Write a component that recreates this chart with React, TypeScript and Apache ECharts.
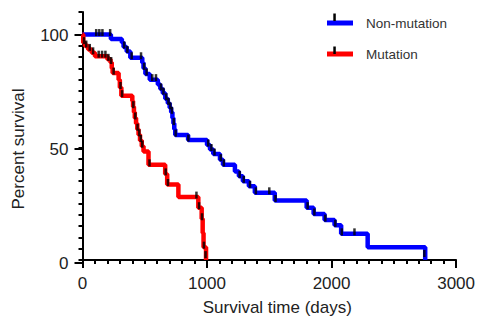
import React, { useEffect, useRef } from "react";
import * as echarts from "echarts";

const seriesNames = ["Non-mutation", "Mutation"];
const seriesColors = ["#0000ff", "#ff0000"];

// Kaplan-Meier steps: [day, survival % after event]
const nonMutationSteps: [number, number][] = [
  [0, 100], [228, 98], [316, 96.5], [330, 94.5], [355, 92.5], [384, 89.7],
  [480, 87.5], [490, 85], [505, 82.5], [540, 80], [605, 77.8], [625, 75.9],
  [645, 74], [665, 71.5], [685, 69.5], [700, 67.5], [712, 65.5], [722, 63],
  [730, 60.5], [737, 58], [745, 55.4], [848, 53.2], [1000, 51], [1024, 49],
  [1050, 47], [1104, 44.5], [1128, 42.2], [1224, 39.3], [1256, 37.1],
  [1288, 34.9], [1336, 32.7], [1384, 29.8], [1544, 26.4], [1800, 23.2],
  [1856, 20.4], [1944, 17.7], [2024, 15.4], [2077, 11.6], [2290, 5.7], [2752, 0],
];
const nonMutationCensored: [number, number][] = [
  [110, 100], [135, 100], [160, 100], [222, 100], [335, 94.5], [360, 92.5],
  [395, 89.7], [470, 89.7], [495, 85], [515, 82.5], [560, 80], [590, 80],
  [630, 75.9], [650, 74], [672, 71.5], [690, 69.5], [705, 67.5], [718, 65.5],
  [733, 60.5], [748, 55.4], [850, 53.2], [1010, 51], [1035, 49], [1060, 47],
  [1110, 44.5], [1135, 42.2], [1262, 37.1], [1295, 34.9], [1345, 32.7],
  [1392, 29.8], [1500, 29.8], [1550, 26.4], [1808, 23.2], [1862, 20.4],
  [1950, 17.7], [2030, 15.4], [2082, 11.6], [2184, 11.6], [2745, 2],
];
const mutationSteps: [number, number][] = [
  [0, 100], [6, 96.4], [20, 94.9], [46, 93.4], [74, 91.9], [100, 90.4],
  [200, 89], [225, 87.6], [235, 85], [242, 82.9], [290, 80], [300, 76.5],
  [312, 72.9], [400, 70.5], [406, 68], [413, 65.5], [420, 63], [430, 60.5],
  [440, 58], [450, 55.5], [462, 53], [476, 50.5], [490, 48.1], [530, 42.2],
  [664, 38.2], [680, 33.5], [770, 27.9], [930, 23.2], [957, 18.3], [965, 12],
  [972, 5.7], [992, 0],
];
const mutationCensored: [number, number][] = [
  [12, 96.4], [30, 94.9], [58, 93.4], [85, 91.9], [130, 90.4], [157, 90.4],
  [184, 90.4], [208, 89], [230, 87.6], [250, 82.9], [305, 76.5], [318, 72.9],
  [408, 68], [424, 63], [442, 58], [456, 55.5], [468, 53], [480, 50.5],
  [538, 42.2], [668, 38.2], [686, 33.5], [915, 27.9], [936, 23.2], [960, 18.3],
  [975, 5.7], [988, 1.5],
];

const xMin = 0, xMax = 3000, xInterval = 1000;
const yMax = 110, yLabelMax = 100, yInterval = 50;

const FONT = "'Liberation Sans', Arial, Helvetica, sans-serif";

export default function App() {
  const ref = useRef<HTMLDivElement>(null);
  useEffect(() => {
    if (!ref.current) return;
    const chart = echarts.init(ref.current, undefined, { renderer: "svg" });
    const axisLineStyle = { color: "#000", width: 2 };
    const label = { color: "#222", fontSize: 17, fontFamily: FONT };
    const plain = (v: number) => String(v);
    const stepSeries = (name: string, data: [number, number][], color: string) => ({
      name,
      type: "line",
      step: "end",
      data,
      showSymbol: false,
      symbol: "none",
      itemStyle: { color },
      lineStyle: { color, width: 4.5 },
      z: 3,
    });
    const censorSeries = (data: [number, number][]) => ({
      type: "scatter",
      data,
      symbol: "rect",
      symbolSize: [2.5, 7],
      symbolOffset: [0, -2],
      itemStyle: { color: "#000" },
      silent: true,
      z: 4,
    });
    chart.setOption({
      animation: false,
      textStyle: { fontFamily: FONT },
      grid: [
        { left: 82.5, right: 20.5, top: 12, bottom: 58 },
        { left: 82.5, right: 20.5, top: 35, bottom: 58 },
      ],
      legend: {
        data: seriesNames,
        orient: "vertical",
        left: 322,
        top: 11,
        icon: "rect",
        itemWidth: 26,
        itemHeight: 5,
        itemGap: 17,
        textStyle: { color: "#333", fontSize: 13.5, lineHeight: 14, fontFamily: FONT, padding: [0, 0, 0, 8] },
      },
      xAxis: [
        {
          type: "value",
          gridIndex: 0,
          min: xMin,
          max: xMax,
          interval: xInterval,
          splitLine: { show: false },
          axisLine: { show: true, lineStyle: axisLineStyle },
          axisTick: { show: true, length: 8, lineStyle: axisLineStyle },
          minorTick: { show: true, splitNumber: 10, length: 4, lineStyle: axisLineStyle },
          axisLabel: { ...label, margin: 15, formatter: plain },
          name: "Survival time (days)",
          nameLocation: "middle",
          nameGap: 39,
          nameTextStyle: { ...label, padding: [0, 0, 0, 16] },
        },
        {
          type: "value",
          gridIndex: 1,
          min: xMin,
          max: xMax,
          show: false,
        },
      ],
      yAxis: [
        {
          type: "value",
          gridIndex: 0,
          min: 0,
          max: yMax,
          interval: 5,
          splitLine: { show: false },
          axisLine: { show: true, lineStyle: axisLineStyle },
          axisTick: { show: true, length: 4, lineStyle: axisLineStyle },
          axisLabel: { show: false },
        },
        {
          type: "value",
          gridIndex: 1,
          min: 0,
          max: yLabelMax,
          interval: yInterval,
          splitLine: { show: false },
          axisLine: { show: false },
          axisTick: { show: true, length: 8, lineStyle: axisLineStyle },
          axisLabel: { ...label, margin: 14, formatter: plain },
          name: "Percent survival",
          nameLocation: "middle",
          nameGap: 56,
          nameTextStyle: label,
        },
      ],
      series: [
        stepSeries(seriesNames[0], nonMutationSteps, seriesColors[0]),
        stepSeries(seriesNames[1], mutationSteps, seriesColors[1]),
        censorSeries(nonMutationCensored),
        censorSeries(mutationCensored),
      ],
      graphic: [
        { type: "rect", left: 333.3, top: 13.5, shape: { width: 2.5, height: 7.5 }, style: { fill: "#000" }, z: 100 },
        { type: "rect", left: 333.3, top: 46.5, shape: { width: 2.5, height: 7.5 }, style: { fill: "#000" }, z: 100 },
      ],
    });
    return () => chart.dispose();
  }, []);
  return (
    <div
      ref={ref}
      style={{ position: "fixed", left: 0, top: 0, width: 478, height: 321, background: "#fff" }}
    />
  );
}
